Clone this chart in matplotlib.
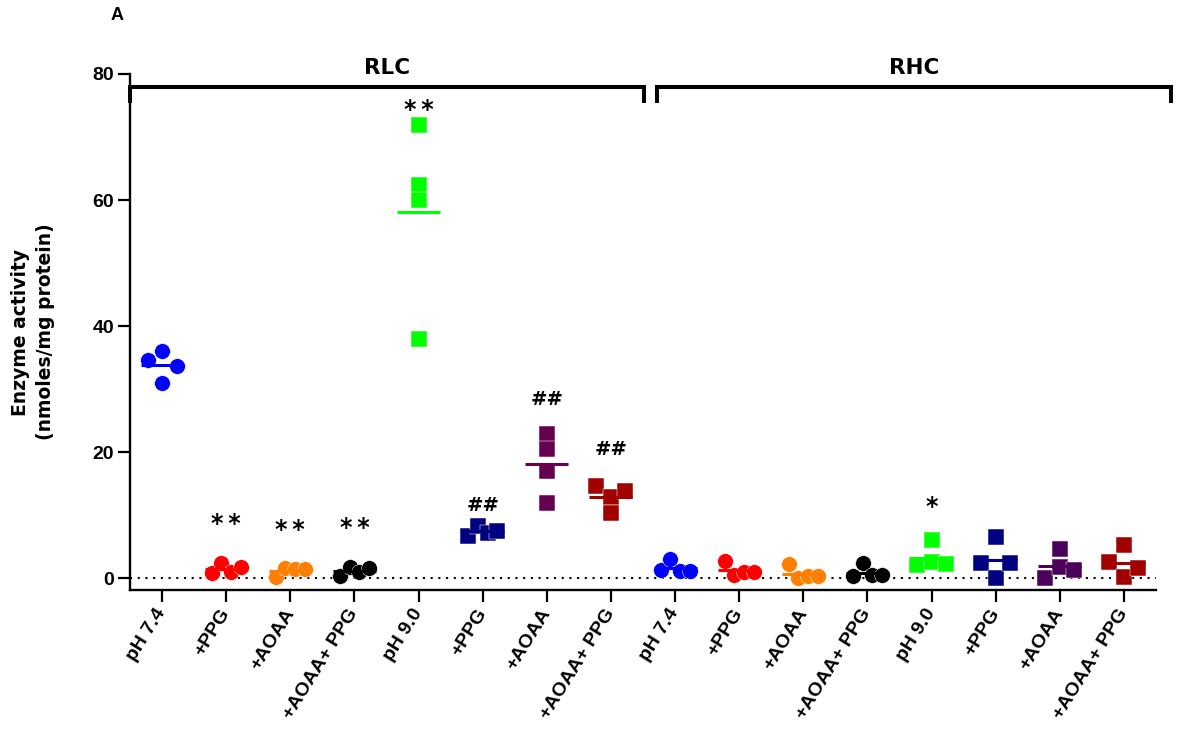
"""
Enzyme activity in RLC and RHC homogenates, pH 7.4 vs pH 9.0 with
PPG / AOAA inhibitors (scatter with mean line, 16 groups, panel A).
"""

import numpy as np
import matplotlib.pyplot as plt

# ── data (nmoles/mg protein) ────────────────────────────────────────────
GROUP_LABELS = ["pH 7.4", "+PPG", "+AOAA", "+AOAA+ PPG",
                "pH 9.0", "+PPG", "+AOAA", "+AOAA+ PPG"] * 2

rlc_ph74          = [34.6, 31.0, 36.1, 33.7]
rlc_ph74_ppg      = [0.8, 2.4, 1.05, 1.85]
rlc_ph74_aoaa     = [0.15, 1.6, 1.45, 1.5]
rlc_ph74_aoaa_ppg = [0.35, 1.85, 1.05, 1.6]
rlc_ph90          = [71.9, 62.4, 60.0, 37.9]
rlc_ph90_ppg      = [6.7, 8.3, 7.2, 7.5]
rlc_ph90_aoaa     = [22.9, 20.5, 17.0, 12.0]
rlc_ph90_aoaa_ppg = [14.6, 12.95, 13.85, 10.4]

rhc_ph74          = [1.25, 3.1, 1.2, 1.2]
rhc_ph74_ppg      = [2.8, 0.55, 0.95, 0.95]
rhc_ph74_aoaa     = [2.3, 0.0, 0.3, 0.3]
rhc_ph74_aoaa_ppg = [0.3, 2.4, 0.45, 0.45]
rhc_ph90          = [2.1, 6.1, 2.6, 2.3]
rhc_ph90_ppg      = [2.5, 0.05, 6.5, 2.45]
rhc_ph90_aoaa     = [0.1, 4.6, 1.8, 1.25]
rhc_ph90_aoaa_ppg = [2.65, 0.2, 5.3, 1.65]

values = [rlc_ph74, rlc_ph74_ppg, rlc_ph74_aoaa, rlc_ph74_aoaa_ppg,
          rlc_ph90, rlc_ph90_ppg, rlc_ph90_aoaa, rlc_ph90_aoaa_ppg,
          rhc_ph74, rhc_ph74_ppg, rhc_ph74_aoaa, rhc_ph74_aoaa_ppg,
          rhc_ph90, rhc_ph90_ppg, rhc_ph90_aoaa, rhc_ph90_aoaa_ppg]

# significance marks (** / * vs pH 7.4, ## vs pH 9.0)
sig_text = ["", "**", "**", "**", "**", "##", "##", "##",
            "", "", "", "", "*", "", "", ""]

# ── style ───────────────────────────────────────────────────────────────
COLORS = ["#0000FF", "#FF0000", "#FF8000", "#000000",
          "#00FF00", "#000080", "#660050", "#A00000",
          "#0000FF", "#FF0000", "#FF8000", "#000000",
          "#00FF00", "#000080", "#4B005A", "#A00000"]
MARKERS = (["o"] * 4 + ["s"] * 4) * 2
SIG_Y = [None, 8.6, 7.7, 7.9, 74.3, 11.6, 28.3, 20.5,
         None, None, None, None, 11.3, None, None, None]

TICK_FONT = dict(family="Liberation Sans", weight="bold")
TEXT_FONT = dict(family="DejaVu Sans", weight="bold")

W, H = 1181, 733
fig = plt.figure(figsize=(W / 100, H / 100), dpi=100)
ax = fig.add_axes([130 / W, 1 - 590 / H, 1026 / W, 516 / H])
ax.set_xlim(-0.5, 15.5)
ax.set_ylim(-1.86, 80)

# pixels per data unit, for the point spreading
ppu_x = 1026 / 16
ppu_y = 516 / 81.86


def spread(vals, gap_px=14.0, half_px=14.5):
    """GraphPad-like scatter: points closer than gap_px share a row."""
    vals = np.asarray(vals, float)
    order = np.argsort(vals, kind="stable")
    clusters = [[order[0]]]
    for a, b in zip(order[:-1], order[1:]):
        if (vals[b] - vals[a]) * ppu_y < gap_px:
            clusters[-1].append(b)
        else:
            clusters.append([b])
    off = np.zeros(len(vals))
    for c in clusters:
        if len(c) > 1:
            c = sorted(c)
            off[c] = np.linspace(-half_px, half_px, len(c)) / ppu_x
    return off


ax.axhline(0, color="black", lw=1.5, ls=(0, (1, 2.7)),
           dash_capstyle="butt", zorder=1)

for i, vals in enumerate(values):
    x = i + spread(vals)
    ax.plot(x, vals, ls="none", marker=MARKERS[i], ms=11.3,
            mfc=COLORS[i], mec="white", mew=0.35, zorder=3)
    m = np.mean(vals)
    ax.plot([i - 0.335, i + 0.335], [m, m], color=COLORS[i], lw=2.2,
            solid_capstyle="butt", zorder=4)
    if sig_text[i]:
        if "#" in sig_text[i]:
            label, fs = sig_text[i], 14
        else:
            label, fs = "\u2009".join(sig_text[i]), 17
        ax.text(i, SIG_Y[i], label, ha="center", va="center",
                fontsize=fs, **TEXT_FONT)

# RLC / RHC brackets
for (x0, x1), name in [((-0.5, 7.51), "RLC"), ((7.72, 15.74), "RHC")]:
    ax.plot([x0, x0, x1, x1], [75.65, 77.9, 77.9, 75.65], color="black",
            lw=2.9, solid_joinstyle="miter", clip_on=False, zorder=5)
    ax.text((x0 + x1) / 2, 81.0, name, ha="center", va="center",
            fontsize=15.5, clip_on=False, **TEXT_FONT)

# axes
for sp in ("top", "right"):
    ax.spines[sp].set_visible(False)
for sp in ("left", "bottom"):
    ax.spines[sp].set_linewidth(1.7)

ax.set_yticks([0, 20, 40, 60, 80])
ax.set_yticklabels(["0", "20", "40", "60", "80"], fontsize=14, **TICK_FONT)
ax.set_xticks(range(len(GROUP_LABELS)))
ax.set_xticklabels(GROUP_LABELS, fontsize=14, rotation=58, ha="right",
                   va="center", rotation_mode="anchor", **TICK_FONT)
ax.tick_params(axis="both", length=8.5, width=1.6, direction="out")
ax.tick_params(axis="y", pad=3)
ax.tick_params(axis="x", pad=6)

fig.text(33 / W, 1 - 332 / H, "Enzyme activity\n(nmoles/mg protein)",
         rotation=90, ha="center", va="center", multialignment="center",
         linespacing=1.45, fontsize=13.5, **TEXT_FONT)
fig.text(117 / W, 1 - 15 / H, "A", ha="center", va="center",
         fontsize=13, **TICK_FONT)

fig.savefig("out.png", dpi=100)
plt.close(fig)
